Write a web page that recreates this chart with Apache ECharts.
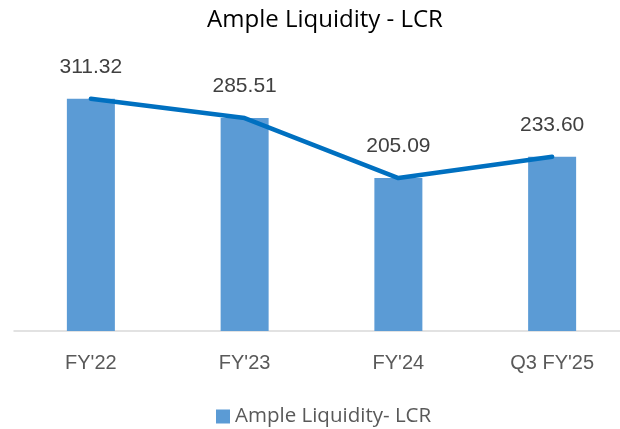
<!DOCTYPE html>
<html><head><meta charset="utf-8">
<script src="https://cdn.jsdelivr.net/npm/echarts@6/dist/echarts.min.js"></script>
<style>html,body{margin:0;padding:0;background:#fff;overflow:hidden}#c{width:629px;height:429px}</style>
</head><body><div id="c"></div>
<script>
var categories = ["FY'22", "FY'23", "FY'24", "Q3 FY'25"];
var lcrValues = [311.32, 285.51, 205.09, 233.60];
var seriesName = "Ample Liquidity- LCR";
var titleText = "Ample Liquidity - LCR";

var FONT = "'Liberation Sans', Arial, sans-serif";
var FONT2 = "'Open Sans', sans-serif";
var chart = echarts.init(document.getElementById('c'), null, {renderer: 'canvas'});
chart.setOption({
  animation: false,
  backgroundColor: '#ffffff',
  title: {text: titleText, left: 320, top: 3, textAlign: 'center',
    textStyle: {fontFamily: FONT2, fontSize: 24, fontWeight: 'normal', color: '#000000'}},
  legend: {data: [{name: seriesName, icon: 'rect'}], left: 216, top: 406, padding: 0, itemWidth: 14, itemHeight: 14, itemGap: 6,
    textStyle: {fontFamily: FONT2, fontSize: 20.5, color: '#595959'}},
  grid: {left: 14, top: 70, right: 0, bottom: 98, containLabel: false},
  xAxis: {type: 'category', data: categories,
    axisLine: {lineStyle: {color: '#d9d9d9', width: 1.5}},
    axisTick: {show: false},
    axisLabel: {fontFamily: FONT, fontSize: 20, color: '#595959', margin: 22}},
  yAxis: {type: 'value', min: 0, max: 350, show: false, splitLine: {show: false}},
  series: [
    {name: seriesName, type: 'bar', data: lcrValues, barWidth: 48, itemStyle: {color: '#5B9BD5'},
      label: {show: true, position: 'top', distance: 21, fontFamily: FONT, fontSize: 21, color: '#404040',
        formatter: function(p){ return p.value.toFixed(2); }}},
    {name: 'line', type: 'line', data: lcrValues, symbol: 'none', z: 3,
      lineStyle: {color: '#0070C0', width: 4.5, cap: 'round', join: 'round'}}
  ]
});
</script></body></html>
